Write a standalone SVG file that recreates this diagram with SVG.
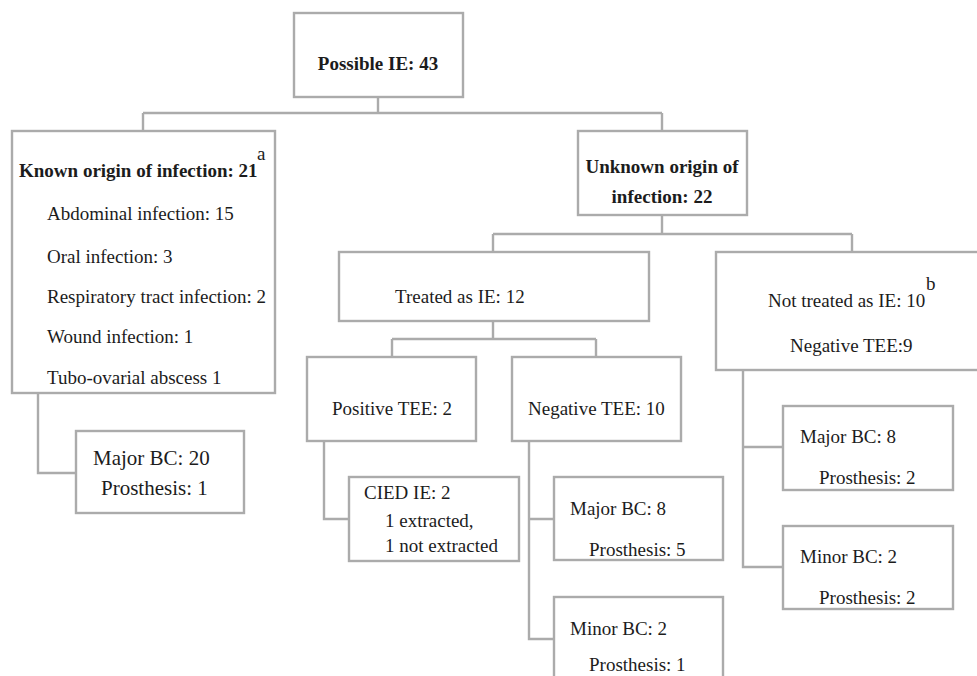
<svg xmlns="http://www.w3.org/2000/svg" width="977" height="676" viewBox="0 0 977 676">
<style>
rect{fill:#fff;stroke:#ababab;stroke-width:2.4}
.c path{fill:none;stroke:#ababab;stroke-width:2.4}
text{font-size:19px;fill:#1c1c1c}
.b{font-weight:bold}
.m{text-anchor:middle}
.l{font-size:21px}
</style>
<rect x="0" y="0" width="977" height="676" style="stroke:none"/>
<g class="c" id="connectors">
<path d="M378,97V113M143,113H662M143,113V131M662,113V131"/>
<path d="M38,393V473H76"/>
<path d="M662,215V234M493,234H852M493,234V252M852,234V252"/>
<path d="M493,321V339M392,339H596M392,339V357M596,339V357"/>
<path d="M324,441V519H349"/>
<path d="M529,441V639H554M529,519H554"/>
<path d="M743,370V567H783M743,447H783"/>
</g>
<g font-family="'Liberation Serif', Tinos, 'Times New Roman', 'Noto Serif', 'DejaVu Serif', serif">
<g id="n-possible"><rect x="294" y="13" width="169" height="84"/><text class="b m" x="378" y="70">Possible IE: 43</text></g>
<g id="n-known"><rect x="12" y="131" width="263" height="262"/>
<text class="b" x="19" y="177">Known origin of infection: 21</text><text x="257" y="160">a</text>
<text x="47" y="220">Abdominal infection: 15</text>
<text x="47" y="263">Oral infection: 3</text>
<text x="47" y="303">Respiratory tract infection: 2</text>
<text x="47" y="343">Wound infection: 1</text>
<text x="47" y="384">Tubo-ovarial abscess 1</text></g>
<g id="n-major20"><rect x="76" y="431" width="168" height="82"/><text class="l" x="93" y="465">Major BC: 20</text><text class="l" x="101" y="495">Prosthesis: 1</text></g>
<g id="n-unknown"><rect x="578" y="131" width="169" height="84"/><text class="b m" x="662" y="173">Unknown origin of</text><text class="b m" x="662" y="203">infection: 22</text></g>
<g id="n-treated"><rect x="339" y="252" width="310" height="69"/><text x="395" y="303">Treated as IE: 12</text></g>
<g id="n-nottreated"><rect x="716" y="252" width="275" height="118"/><text x="768" y="307">Not treated as IE: 10</text><text x="926" y="290">b</text><text x="790" y="352">Negative TEE:9</text></g>
<g id="n-postee"><rect x="307" y="357" width="169" height="84"/><text x="332" y="415">Positive TEE: 2</text></g>
<g id="n-negtee"><rect x="512" y="357" width="169" height="84"/><text x="528" y="415">Negative TEE: 10</text></g>
<g id="n-cied"><rect x="349" y="477" width="170" height="84"/><text x="364" y="499">CIED IE: 2</text><text x="385" y="527">1 extracted,</text><text x="385" y="552">1 not extracted</text></g>
<g id="n-major8a"><rect x="554" y="477" width="169" height="83"/><text x="570" y="515">Major BC: 8</text><text x="589" y="556">Prosthesis: 5</text></g>
<g id="n-minor2a"><rect x="554" y="597" width="169" height="100"/><text x="570" y="635">Minor BC: 2</text><text x="589" y="671">Prosthesis: 1</text></g>
<g id="n-major8b"><rect x="783" y="406" width="170" height="84"/><text x="800" y="443">Major BC: 8</text><text x="819" y="484">Prosthesis: 2</text></g>
<g id="n-minor2b"><rect x="783" y="526" width="170" height="83"/><text x="800" y="563">Minor BC: 2</text><text x="819" y="604">Prosthesis: 2</text></g>
</g>
</svg>
